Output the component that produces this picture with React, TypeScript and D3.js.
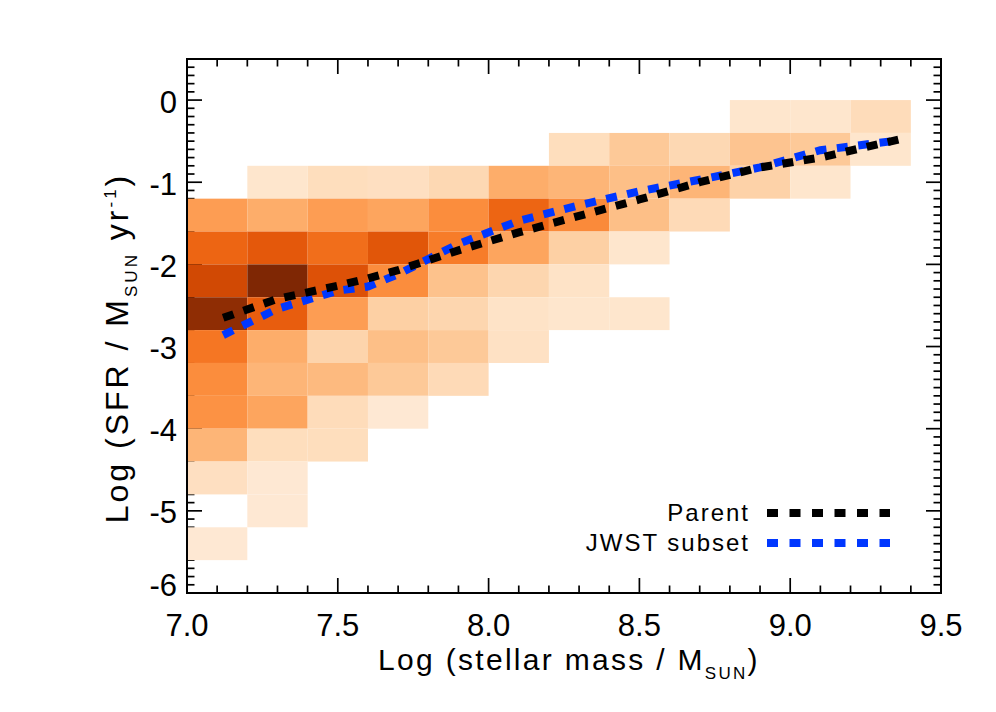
import React from 'react';
import * as d3 from 'd3';

// canvas + plot box (IDL-style boxed axes, ticks inward)
const W = 996;
const H = 712;
const box = { left: 187, right: 941, top: 59, bottom: 593 };

// 2D histogram bins (mass bin lower edges, SFR bin upper edges)
const massBinLo = [7.0, 7.2, 7.4, 7.6, 7.8, 8.0, 8.2, 8.4, 8.6, 8.8, 9.0, 9.2];
const sfrBinHi = [0.0, -0.4, -0.8, -1.2, -1.6, -2.0, -2.4, -2.8, -3.2, -3.6, -4.0, -4.4, -4.8, -5.2, -5.6];
const massBinWidth = 0.2;
const sfrBinHeight = 0.4;

// relative density per cell (0 = empty), one row per SFR bin, top to bottom
const density = [
  [0, 0, 0, 0, 0, 0, 0, 0, 0, 12, 12, 18],
  [0, 0, 0, 0, 0, 0, 17, 27, 20, 29, 27, 12],
  [0, 12, 17, 16, 20, 38, 35, 31, 35, 23, 12, 0],
  [44, 38, 44, 41, 50, 64, 51, 31, 19, 0, 0, 0],
  [64, 69, 61, 70, 56, 41, 24, 12, 0, 0, 0, 0],
  [76, 100, 72, 50, 30, 21, 14, 0, 0, 0, 0, 0],
  [95, 67, 44, 24, 21, 14, 12, 12, 0, 0, 0, 0],
  [58, 38, 22, 31, 27, 15, 0, 0, 0, 0, 0, 0],
  [50, 35, 33, 27, 19, 0, 0, 0, 0, 0, 0, 0],
  [48, 41, 18, 10, 0, 0, 0, 0, 0, 0, 0, 0],
  [35, 17, 17, 0, 0, 0, 0, 0, 0, 0, 0, 0],
  [16, 10, 0, 0, 0, 0, 0, 0, 0, 0, 0, 0],
  [0, 10, 0, 0, 0, 0, 0, 0, 0, 0, 0, 0],
  [10, 0, 0, 0, 0, 0, 0, 0, 0, 0, 0, 0],
  [0, 0, 0, 0, 0, 0, 0, 0, 0, 0, 0, 0],
];

// median tracks
const trackMass = [7.12, 7.3, 7.5, 7.6, 7.7, 7.9, 8.1, 8.3, 8.5, 8.7, 8.9, 9.1, 9.36];
const parentSfr = [-2.65, -2.42, -2.26, -2.17, -2.07, -1.83, -1.61, -1.41, -1.21, -1.0, -0.82, -0.7, -0.48];
const jwstSfr = [-2.86, -2.54, -2.32, -2.27, -2.12, -1.75, -1.47, -1.28, -1.11, -0.97, -0.82, -0.61, -0.49];

const xTickValues = [7.0, 7.5, 8.0, 8.5, 9.0, 9.5];
const yTickValues = [0, -1, -2, -3, -4, -5, -6];

const font = "'Liberation Sans', Arial, Helvetica, sans-serif";

export default function App() {
  const x = d3.scaleLinear().domain([7.0, 9.5]).range([box.left, box.right]);
  const y = d3.scaleLinear().domain([-6, 0.5]).range([box.bottom, box.top]);
  const color = d3.scaleSequential(d3.interpolateOranges).domain([0, 100]);

  const line = d3
    .line<number>()
    .x((_, i) => x(trackMass[i]))
    .y((d) => y(d));

  const xMinor = x.ticks(25);
  const yMinor = y.ticks(65);

  const cells: { x0: number; x1: number; y0: number; y1: number; v: number }[] = [];
  density.forEach((row, r) => {
    row.forEach((v, c) => {
      if (v > 0) {
        cells.push({
          x0: x(massBinLo[c]),
          x1: x(massBinLo[c] + massBinWidth),
          y0: y(sfrBinHi[r]),
          y1: y(sfrBinHi[r] - sfrBinHeight),
          v,
        });
      }
    });
  });

  const major = 15;
  const minor = 7.5;

  return (
    <svg
      width={W}
      height={H}
      style={{ position: 'absolute', left: 0, top: 0, background: '#fff' }}
      fontFamily={font}
    >
      {/* ticks, inward on all four sides */}
      <g stroke="#000" strokeWidth={1.7}>
        {xMinor.map((t, i) => {
          const isMajor = Math.abs(t * 2 - Math.round(t * 2)) < 1e-6;
          const len = isMajor ? major : minor;
          return (
            <g key={'xt' + i}>
              <line x1={x(t)} x2={x(t)} y1={box.bottom} y2={box.bottom - len} />
              <line x1={x(t)} x2={x(t)} y1={box.top} y2={box.top + len} />
            </g>
          );
        })}
        {yMinor.map((t, i) => {
          const isMajor = Math.abs(t - Math.round(t)) < 1e-6;
          const len = isMajor ? major : minor;
          return (
            <g key={'yt' + i}>
              <line x1={box.left} x2={box.left + len} y1={y(t)} y2={y(t)} />
              <line x1={box.right} x2={box.right - len} y1={y(t)} y2={y(t)} />
            </g>
          );
        })}
      </g>

      {/* histogram */}
      <g>
        {cells.map((d, i) => (
          <rect
            key={'c' + i}
            x={d.x0}
            y={d.y0}
            width={d.x1 - d.x0}
            height={d.y1 - d.y0}
            fill={color(d.v)}
          />
        ))}
      </g>

      {/* median tracks */}
      <path d={line(jwstSfr) || ''} fill="none" stroke="#0037ff" strokeWidth={8} strokeDasharray="11 10.5" />
      <path d={line(parentSfr) || ''} fill="none" stroke="#000" strokeWidth={8} strokeDasharray="11 10.5" />

      {/* frame */}
      <rect
        x={box.left}
        y={box.top}
        width={box.right - box.left}
        height={box.bottom - box.top}
        fill="none"
        stroke="#000"
        strokeWidth={2}
      />

      {/* tick labels */}
      <g fontSize={31} fill="#000">
        {xTickValues.map((t) => (
          <text key={'xl' + t} x={x(t)} y={box.bottom + 43} textAnchor="middle">
            {t.toFixed(1)}
          </text>
        ))}
        {yTickValues.map((t) => (
          <text
            key={'yl' + t}
            x={box.left - 10}
            y={y(t) + 12.5 - (t === -6 ? 10 : 0)}
            textAnchor="end"
          >
            {t === 0 ? '0' : '-' + Math.abs(t)}
          </text>
        ))}
      </g>

      {/* axis titles */}
      <text
        x={(box.left + box.right) / 2 + 5}
        y={670}
        textAnchor="middle"
        fontSize={30}
        letterSpacing={2.3}
      >
        Log (stellar mass / M
        <tspan fontSize={17} dy={9}>SUN</tspan>
        <tspan dy={-9}>)</tspan>
      </text>
      <g transform={`translate(128, ${(box.top + box.bottom) / 2 + 22}) rotate(-90)`}>
        <text x={0} y={0} textAnchor="middle" fontSize={32} letterSpacing={3}>
          Log (SFR / M
          <tspan fontSize={17} dy={9}>SUN</tspan>
          <tspan dy={-9}> yr</tspan>
          <tspan fontSize={17} dy={-12}>-1</tspan>
          <tspan dy={12}>)</tspan>
        </text>
      </g>

      {/* legend */}
      <g fontSize={24} letterSpacing={2}>
        <text x={750} y={521} textAnchor="end">Parent</text>
        <line x1={767} x2={890} y1={513} y2={513} stroke="#000" strokeWidth={8} strokeDasharray="11 11.5" />
        <text x={750} y={551} textAnchor="end">JWST subset</text>
        <line x1={767} x2={890} y1={543} y2={543} stroke="#0037ff" strokeWidth={8} strokeDasharray="11 11.5" />
      </g>
    </svg>
  );
}
